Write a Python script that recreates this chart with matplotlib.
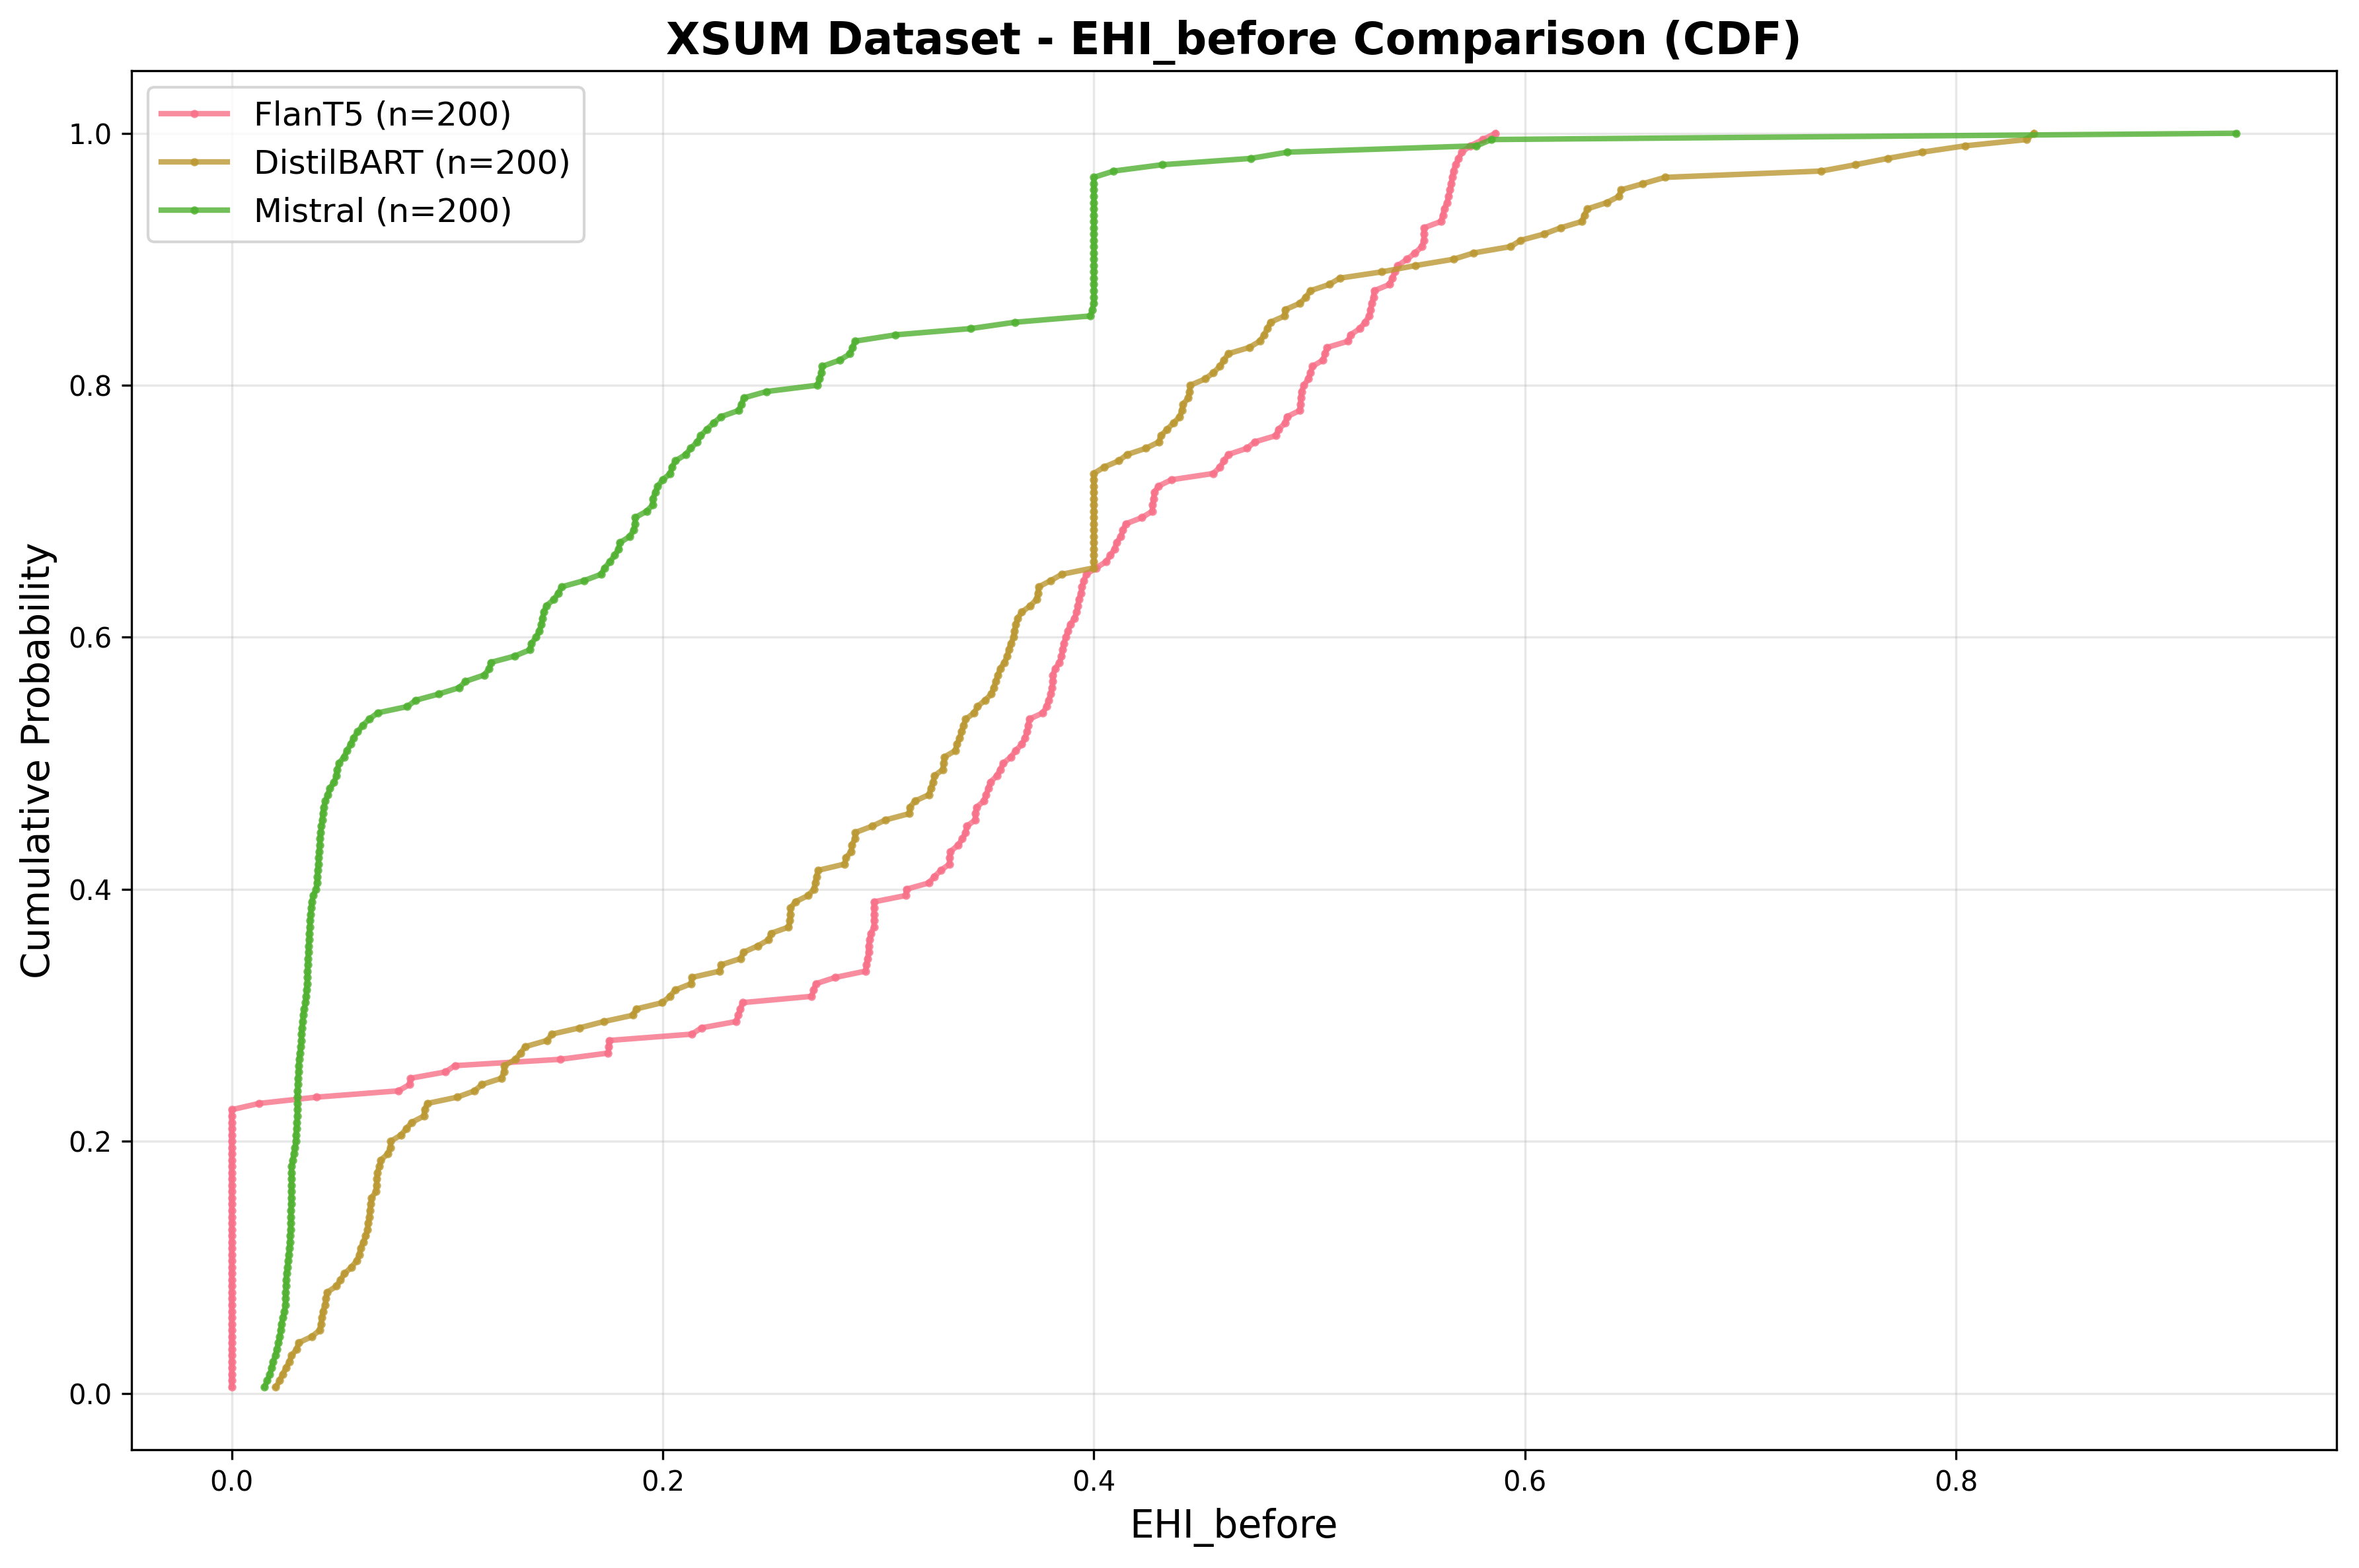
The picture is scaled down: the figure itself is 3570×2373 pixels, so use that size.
import matplotlib
matplotlib.use("Agg")
import matplotlib.pyplot as plt
import numpy as np

# Sorted EHI_before values, one per sample
flant5 = [0.0] * 45 + [
    0.0127, 0.0394, 0.0774, 0.0825, 0.083, 0.0992, 0.1036, 0.1524,
    0.1747, 0.175, 0.1752, 0.2135, 0.218, 0.234, 0.235, 0.236, 0.237,
    0.269, 0.270, 0.271, 0.28, 0.294, 0.2945, 0.295, 0.2955, 0.2955,
    0.296, 0.2965, 0.298, 0.298, 0.298, 0.298, 0.298, 0.3127, 0.313,
    0.3234, 0.326, 0.329, 0.333, 0.333, 0.3335, 0.337, 0.339, 0.3405,
    0.341, 0.345, 0.345, 0.3455, 0.349, 0.35, 0.351, 0.352, 0.355,
    0.3565, 0.358, 0.3615, 0.3637, 0.3666, 0.368, 0.369, 0.3695, 0.37,
    0.3764, 0.378, 0.379, 0.380, 0.3805, 0.381, 0.381, 0.382, 0.384,
    0.385, 0.3855, 0.386, 0.387, 0.388, 0.389, 0.391, 0.392, 0.3926,
    0.393, 0.394, 0.3945, 0.3953, 0.3965, 0.401, 0.4057, 0.4076, 0.4096,
    0.4105, 0.4125, 0.4135, 0.4148, 0.4223, 0.4271, 0.4272, 0.4277,
    0.428, 0.43, 0.436, 0.4555, 0.4584, 0.4604, 0.4623, 0.4711, 0.4746,
    0.4844, 0.4857, 0.4887, 0.4896, 0.4955, 0.4958, 0.496, 0.4963,
    0.4975, 0.4994, 0.5004, 0.5014, 0.5063, 0.5072, 0.5082, 0.518,
    0.519, 0.5234, 0.5258, 0.5277, 0.5283, 0.5289, 0.5297, 0.53, 0.5371,
    0.5385, 0.5395, 0.541, 0.5453, 0.549, 0.5521, 0.5531, 0.5531,
    0.5532, 0.561, 0.5619, 0.5625, 0.5639, 0.5645, 0.5652, 0.5658,
    0.5662, 0.5668, 0.5678, 0.5692, 0.5707, 0.5746, 0.5805, 0.5863,
]

distilbart = [
    0.0205, 0.0223, 0.0236, 0.0252, 0.0267, 0.0278, 0.0302, 0.031,
    0.0372, 0.0408, 0.0414, 0.0419, 0.0423, 0.0434, 0.0437, 0.0442,
    0.0486, 0.0505, 0.0524, 0.0555, 0.058, 0.0592, 0.0598, 0.0611,
    0.0622, 0.063, 0.0633, 0.0638, 0.0641, 0.0645, 0.0649, 0.0669,
    0.0672, 0.0674, 0.0676, 0.0685, 0.0692, 0.0724, 0.0736, 0.0738,
    0.0786, 0.081, 0.0836, 0.0892, 0.0895, 0.0908, 0.1047, 0.1127,
    0.1161, 0.1252, 0.1263, 0.1265, 0.1317, 0.134, 0.1361, 0.1463,
    0.1486, 0.1614, 0.1727, 0.1861, 0.1877, 0.1998, 0.2033, 0.2057,
    0.2131, 0.2135, 0.2264, 0.2271, 0.2361, 0.2375, 0.244, 0.2492,
    0.2502, 0.2584, 0.259, 0.2591, 0.2592, 0.2615, 0.2674, 0.2701,
    0.2707, 0.2713, 0.2721, 0.2844, 0.2849, 0.2875, 0.2877, 0.2891,
    0.2893, 0.2971, 0.3033, 0.3143, 0.3146, 0.317, 0.3234, 0.3244,
    0.3254, 0.326, 0.3299, 0.3303, 0.3307, 0.3357, 0.3365, 0.3377,
    0.3385, 0.3395, 0.3405, 0.3445, 0.346, 0.3495, 0.3525, 0.3535,
    0.3545, 0.3555, 0.3565, 0.3585, 0.3598, 0.3605, 0.3615, 0.3627,
    0.3632, 0.3638, 0.3646, 0.3666, 0.3705, 0.3734, 0.374, 0.3744,
    0.380, 0.3852, 0.3998,
    0.4, 0.4, 0.4, 0.4, 0.4, 0.4, 0.4, 0.4, 0.4, 0.4, 0.4, 0.4, 0.4,
    0.4, 0.4,
    0.4047, 0.4115, 0.4154, 0.4242, 0.4301, 0.4311, 0.434, 0.4369,
    0.4398, 0.4408, 0.4414, 0.4438, 0.4443, 0.4447, 0.4516, 0.4555,
    0.4584, 0.4604, 0.4623, 0.4721, 0.477, 0.479, 0.4805, 0.4819,
    0.4885, 0.4887, 0.4955, 0.4984, 0.5004, 0.5092, 0.5141, 0.5336,
    0.5492, 0.5668, 0.5762, 0.5932, 0.598, 0.6088, 0.6166, 0.6264,
    0.6275, 0.629, 0.638, 0.6436, 0.6445, 0.6547, 0.665, 0.7375,
    0.7532, 0.7682, 0.7843, 0.8041, 0.8327, 0.836,
]

mistral = [
    0.0153, 0.0165, 0.0177, 0.0185, 0.0192, 0.0203, 0.021, 0.0217,
    0.0223, 0.0227, 0.0231, 0.0238, 0.0245, 0.0249, 0.025, 0.0251,
    0.0252, 0.0253, 0.0255, 0.0259, 0.0262, 0.0265, 0.0268, 0.027,
    0.0271, 0.0273, 0.0274, 0.0275, 0.0275, 0.0276, 0.0276, 0.0277,
    0.0277, 0.0278, 0.0278, 0.0278, 0.0283, 0.0289, 0.0294, 0.0298,
    0.0299, 0.0301, 0.0303, 0.0304, 0.0305, 0.0305, 0.0305, 0.0306,
    0.0307, 0.0308, 0.031, 0.0311, 0.0313, 0.0317, 0.0321, 0.0323,
    0.0324, 0.0326, 0.0329, 0.0332, 0.0336, 0.0343, 0.0346, 0.0348,
    0.035, 0.0351, 0.0352, 0.0353, 0.0354, 0.0356, 0.0357, 0.0359,
    0.036, 0.0362, 0.0364, 0.0366, 0.0369, 0.0372, 0.0378, 0.0392,
    0.0396, 0.0398, 0.0399, 0.0402, 0.0404, 0.0406, 0.0408, 0.041,
    0.0413, 0.0416, 0.042, 0.0423, 0.0427, 0.0435, 0.0446, 0.0455,
    0.0475, 0.0486, 0.049, 0.0498, 0.0521, 0.0535, 0.0552, 0.0565,
    0.0585, 0.0608, 0.0638, 0.0678, 0.0815, 0.0854, 0.0962, 0.1056,
    0.1085, 0.1171, 0.1195, 0.1202, 0.1312, 0.1383, 0.139, 0.1413,
    0.1427, 0.1437, 0.1441, 0.1448, 0.146, 0.1495, 0.1515, 0.1531,
    0.1636, 0.1714, 0.173, 0.1755, 0.1777, 0.1795, 0.18, 0.1847,
    0.1865, 0.1871, 0.1872, 0.1925, 0.1953, 0.1954, 0.1965, 0.1977,
    0.2, 0.2035, 0.2042, 0.2059, 0.2106, 0.213, 0.216, 0.2176, 0.2205,
    0.2235, 0.227, 0.2352, 0.2365, 0.2376, 0.2481, 0.2716, 0.2728,
    0.2735, 0.274, 0.2822, 0.2869, 0.288, 0.2892, 0.308, 0.343, 0.3633,
    0.3984, 0.3992,
    0.4, 0.4, 0.4, 0.4, 0.4, 0.4, 0.4, 0.4, 0.4, 0.4, 0.4, 0.4, 0.4,
    0.4, 0.4, 0.4, 0.4, 0.4, 0.4, 0.4, 0.4,
    0.4092, 0.4316, 0.4727, 0.4898, 0.5775, 0.5844, 0.930,
]

models = ["FlanT5", "DistilBART", "Mistral"]
series = [flant5, distilbart, mistral]
colors = ["#f77189", "#bb9832", "#50b131"]

fig = plt.figure(figsize=(11.9, 7.91), dpi=300)
ax = fig.add_axes([0.0557, 0.0755, 0.9348, 0.8795])

for name, vals, col in zip(models, series, colors):
    x = np.sort(np.asarray(vals))
    y = np.arange(1, len(x) + 1) / len(x)
    ax.plot(x, y, marker="o", markersize=2, linewidth=2, alpha=0.8,
            color=col, label=f"{name} (n={len(x)})")

ax.set_title("XSUM Dataset - EHI_before Comparison (CDF)", fontsize=16,
             fontweight="bold")
ax.set_xlabel("EHI_before", fontsize=14)
ax.set_ylabel("Cumulative Probability", fontsize=14)
ax.grid(True, alpha=0.3)
ax.legend(loc="upper left", fontsize=12)

fig.savefig("out.png", dpi=300)
